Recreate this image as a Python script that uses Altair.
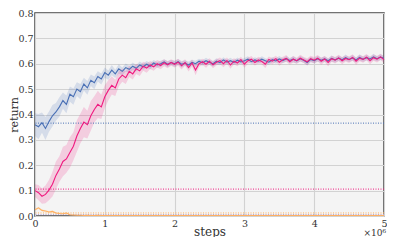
import altair as alt
import pandas as pd

# x grid (millions of steps)
steps = [round(i * 0.05, 2) for i in range(101)]

blue_mean = [0.360, 0.352, 0.368, 0.345, 0.372, 0.395, 0.410, 0.430, 0.455, 0.440,
             0.480, 0.470, 0.500, 0.490, 0.520, 0.505, 0.535, 0.525, 0.550, 0.540,
             0.565, 0.555, 0.575, 0.560, 0.580, 0.570, 0.585, 0.578, 0.590, 0.582,
             0.595, 0.588, 0.598, 0.590, 0.603, 0.595, 0.600, 0.607, 0.598, 0.605,
             0.600, 0.608, 0.598, 0.603, 0.595, 0.605, 0.600, 0.610, 0.603, 0.612,
             0.605, 0.600, 0.610, 0.604, 0.615, 0.606, 0.612, 0.605, 0.614, 0.607,
             0.612, 0.618, 0.608, 0.615, 0.610, 0.618, 0.612, 0.606, 0.616, 0.611,
             0.619, 0.612, 0.620, 0.613, 0.618, 0.611, 0.620, 0.614, 0.605, 0.617,
             0.612, 0.620, 0.614, 0.619, 0.612, 0.621, 0.615, 0.622, 0.616, 0.624,
             0.617, 0.623, 0.615, 0.625, 0.618, 0.624, 0.619, 0.627, 0.620, 0.626,
             0.622]
blue_err = [0.045, 0.050, 0.040, 0.045, 0.040, 0.042, 0.035, 0.038, 0.032, 0.035,
            0.030, 0.032, 0.027, 0.030, 0.025, 0.027, 0.023, 0.025, 0.020, 0.022,
            0.020, 0.018, 0.020, 0.016, 0.018, 0.015, 0.016, 0.014, 0.015, 0.013,
            0.014, 0.012, 0.013, 0.012, 0.012, 0.011, 0.012, 0.011, 0.012, 0.010,
            0.012, 0.011, 0.013, 0.010, 0.014, 0.011, 0.012, 0.010, 0.011, 0.012,
            0.010, 0.011, 0.012, 0.010, 0.011, 0.010, 0.012, 0.010, 0.011, 0.010,
            0.011, 0.012, 0.010, 0.011, 0.010, 0.012, 0.010, 0.011, 0.010, 0.011,
            0.012, 0.010, 0.011, 0.010, 0.012, 0.010, 0.011, 0.010, 0.012, 0.011,
            0.010, 0.012, 0.010, 0.011, 0.010, 0.012, 0.010, 0.011, 0.010, 0.012,
            0.010, 0.011, 0.010, 0.012, 0.010, 0.011, 0.010, 0.012, 0.010, 0.011,
            0.010]

pink_mean = [0.100, 0.092, 0.078, 0.085, 0.102, 0.125, 0.160, 0.185, 0.215, 0.225,
             0.250, 0.275, 0.315, 0.345, 0.370, 0.360, 0.395, 0.420, 0.440, 0.430,
             0.470, 0.495, 0.515, 0.505, 0.540, 0.555, 0.545, 0.570, 0.560, 0.580,
             0.572, 0.590, 0.583, 0.595, 0.588, 0.600, 0.593, 0.604, 0.596, 0.605,
             0.598, 0.606, 0.592, 0.605, 0.585, 0.603, 0.575, 0.600, 0.608, 0.598,
             0.610, 0.596, 0.606, 0.612, 0.600, 0.613, 0.595, 0.610, 0.603, 0.616,
             0.598, 0.612, 0.618, 0.605, 0.615, 0.609, 0.598, 0.617, 0.610, 0.620,
             0.606, 0.616, 0.621, 0.608, 0.618, 0.612, 0.622, 0.615, 0.608, 0.620,
             0.614, 0.622, 0.610, 0.619, 0.605, 0.620, 0.614, 0.623, 0.612, 0.621,
             0.616, 0.625, 0.610, 0.622, 0.617, 0.626, 0.612, 0.624, 0.618, 0.627,
             0.616]
pink_err = [0.025, 0.030, 0.030, 0.035, 0.040, 0.048, 0.055, 0.050, 0.058, 0.055,
            0.060, 0.055, 0.062, 0.058, 0.060, 0.055, 0.058, 0.052, 0.054, 0.048,
            0.045, 0.040, 0.036, 0.032, 0.030, 0.026, 0.025, 0.022, 0.022, 0.020,
            0.020, 0.018, 0.018, 0.016, 0.016, 0.015, 0.015, 0.014, 0.014, 0.013,
            0.013, 0.014, 0.015, 0.013, 0.016, 0.014, 0.020, 0.013, 0.012, 0.014,
            0.012, 0.014, 0.012, 0.013, 0.014, 0.012, 0.015, 0.012, 0.013, 0.012,
            0.014, 0.012, 0.013, 0.012, 0.013, 0.012, 0.015, 0.012, 0.013, 0.012,
            0.014, 0.012, 0.013, 0.012, 0.013, 0.012, 0.013, 0.012, 0.014, 0.012,
            0.013, 0.012, 0.014, 0.012, 0.015, 0.012, 0.013, 0.012, 0.014, 0.012,
            0.013, 0.012, 0.014, 0.012, 0.013, 0.012, 0.014, 0.012, 0.013, 0.012,
            0.013]

orange_mean = [0.025, 0.032, 0.022, 0.020, 0.016, 0.018, 0.012, 0.010, 0.009, 0.012,
               0.005, 0.004, 0.003, 0.003, 0.002, 0.003, 0.002, 0.002, 0.003, 0.002,
               0.002, 0.002, 0.002, 0.002, 0.002, 0.002, 0.002, 0.002, 0.002, 0.002,
               0.002, 0.002, 0.002, 0.002, 0.002, 0.002, 0.002, 0.002, 0.002, 0.002,
               0.002, 0.002, 0.002, 0.002, 0.002, 0.002, 0.002, 0.002, 0.002, 0.002,
               0.002, 0.002, 0.002, 0.002, 0.002, 0.002, 0.002, 0.002, 0.002, 0.002,
               0.002, 0.002, 0.002, 0.002, 0.002, 0.002, 0.002, 0.002, 0.002, 0.002,
               0.002, 0.002, 0.002, 0.002, 0.002, 0.002, 0.002, 0.002, 0.002, 0.002,
               0.002, 0.002, 0.002, 0.002, 0.002, 0.002, 0.002, 0.002, 0.002, 0.002,
               0.002, 0.002, 0.002, 0.002, 0.002, 0.002, 0.002, 0.002, 0.002, 0.002,
               0.002]

# dotted reference levels
ref_series = ["blue", "pink", "orange", "purple"]
ref_values = [0.366, 0.106, 0.012, 0.006]

series_names = ["blue", "pink", "orange", "purple"]
series_colors = ["#4a70b5", "#f0197f", "#ffb060", "#b8a8d8"]

x_ticks = [0, 1, 2, 3, 4, 5]
y_ticks = [0, 0.1, 0.2, 0.3, 0.4, 0.5, 0.6, 0.7, 0.8]

rows = []
for name, mean, err in [("blue", blue_mean, blue_err), ("pink", pink_mean, pink_err)]:
    for s, m, e in zip(steps, mean, err):
        rows.append({"series": name, "steps": s, "ret": m, "lo": m - e, "hi": m + e})
for s, m in zip(steps, orange_mean):
    rows.append({"series": "orange", "steps": s, "ret": m, "lo": max(m - 0.004, 0), "hi": m + 0.004})
df = pd.DataFrame(rows)
ref_df = pd.DataFrame({"series": ref_series, "ret": ref_values})

color = alt.Color("series:N", scale=alt.Scale(domain=series_names, range=series_colors), legend=None)

W, H = 349, 203
x_scale = alt.Scale(domain=[0, 5], nice=False)
y_scale = alt.Scale(domain=[0, 0.8], nice=False)
x_axis = alt.Axis(values=x_ticks, format="d", title="steps",
                  labelOverlap=False, labelFlush=False,
                  titleY=15, titleBaseline="middle", titleFontSize=12)
y_axis = alt.Axis(values=y_ticks, format=".1f", title="return",
                  labelOverlap=False, labelFlush=False,
                  titleX=-18, titleY=H / 2, titleBaseline="alphabetic",
                  titleAlign="center", titleAngle=270, titleFontSize=11)

band = alt.Chart(df).mark_area(opacity=0.18).encode(
    x=alt.X("steps:Q", scale=x_scale, axis=x_axis),
    y=alt.Y("lo:Q", scale=y_scale, axis=y_axis), y2="hi:Q", color=color)
line = alt.Chart(df).mark_line(strokeWidth=1.1).encode(
    x=alt.X("steps:Q", scale=x_scale, axis=x_axis),
    y=alt.Y("ret:Q", scale=y_scale, axis=y_axis), color=color, detail="series:N")
rules = alt.Chart(ref_df).mark_rule(strokeDash=[1, 1.5], strokeWidth=1).encode(
    y=alt.Y("ret:Q", scale=y_scale, axis=y_axis), color=color)
mult = alt.Chart(pd.DataFrame({"t": ["×10⁶"]})).mark_text(
    font="DejaVu Serif", fontSize=9, align="right", baseline="middle", color="#333"
).encode(text="t:N", x=alt.value(W + 2), y=alt.value(H + 17))

chart = alt.layer(band, rules, line, mult).properties(
    width=W, height=H,
    autosize=alt.AutoSizeParams(type="none"),
    padding={"left": 27, "top": 5, "right": 3, "bottom": 21},
    background="white",
).configure_view(
    fill="#f4f4f4", stroke="#444", strokeWidth=1.5
).configure_axis(
    labelFont="DejaVu Serif", titleFont="DejaVu Serif", labelFontSize=9.5,
    labelColor="#333", titleColor="#333", titleFontWeight="normal",
    grid=True, gridColor="#d2d2d2", gridWidth=1.1, ticks=False, domain=False,
).configure_axisX(
    labelPadding=2
).configure_axisY(
    labelPadding=2
)

chart.save("out.html", embed_options={"renderer": "svg", "actions": False})
